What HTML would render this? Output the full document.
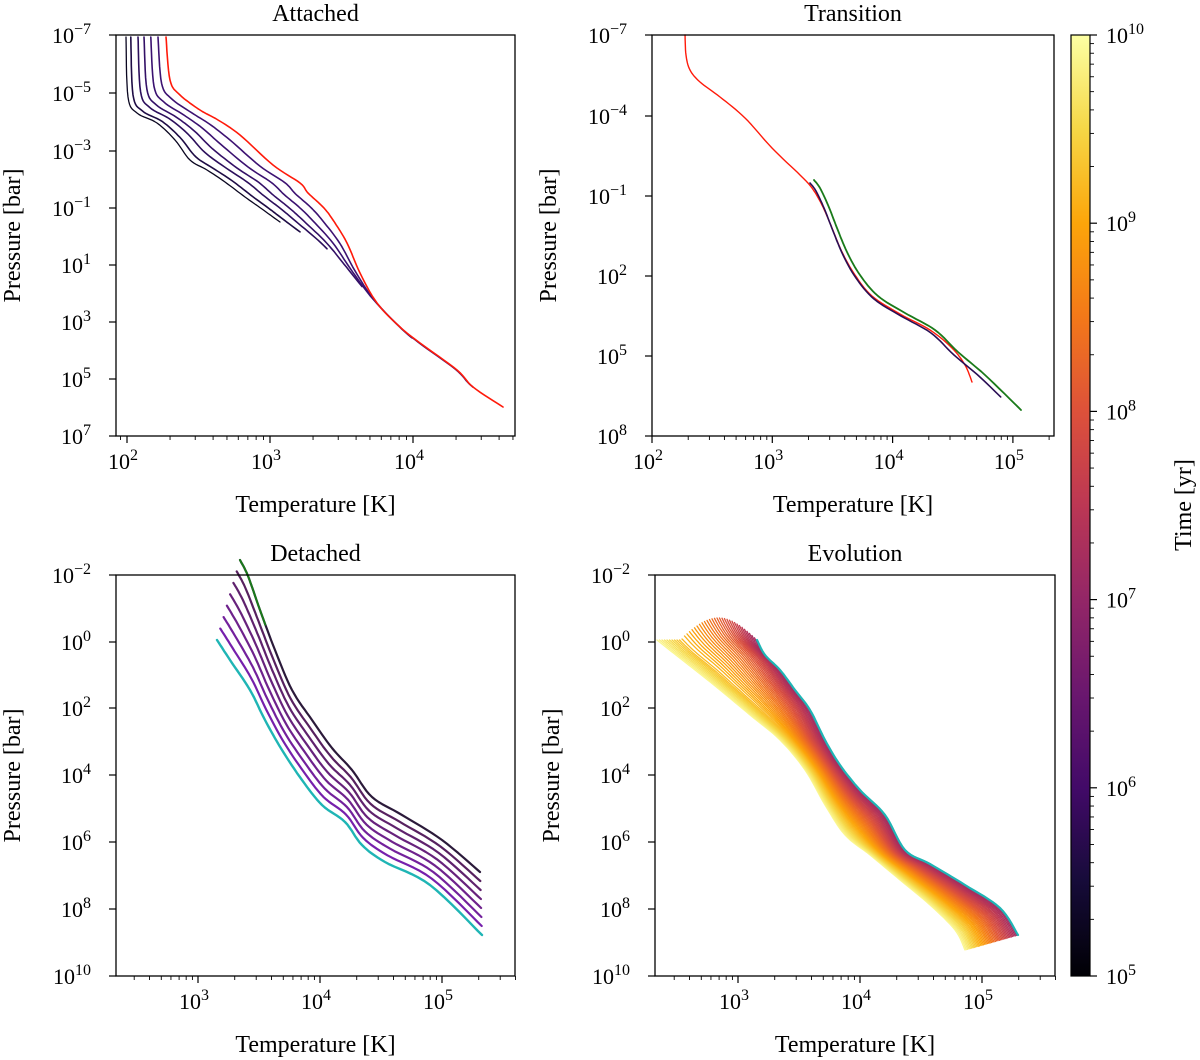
<!DOCTYPE html>
<html><head><meta charset="utf-8"><style>
body{margin:0;background:#fff}
svg{display:block;font-family:"Liberation Serif","DejaVu Serif",serif}
</style></head><body>
<svg id="s" width="1200" height="1060" xmlns="http://www.w3.org/2000/svg">
<defs><linearGradient id="inf" x1="0" y1="1" x2="0" y2="0">
<stop offset="0" stop-color="#000004"/><stop offset="0.1" stop-color="#160b39"/><stop offset="0.2" stop-color="#420a68"/><stop offset="0.3" stop-color="#6a176e"/><stop offset="0.4" stop-color="#932667"/><stop offset="0.5" stop-color="#bc3754"/><stop offset="0.6" stop-color="#dd513a"/><stop offset="0.7" stop-color="#f37819"/><stop offset="0.8" stop-color="#fca50a"/><stop offset="0.9" stop-color="#f6d746"/><stop offset="1" stop-color="#fcffa4"/></linearGradient></defs>
<g id="g"></g>
</svg>
<script>
const g=document.getElementById('g');let h='';
function pl(pts,col,w){h+=`<polyline fill="none" stroke="${col}" stroke-width="${w}" stroke-linejoin="round" stroke-linecap="round" points="${pts.map(p=>p[0].toFixed(1)+','+p[1].toFixed(1)).join(' ')}"/>`;}
function lerp(A,B,f){return A.map((a,i)=>[a[0]+(B[i][0]-a[0])*f,a[1]+(B[i][1]-a[1])*f]);}
function trunc(P,xe){let o=[];for(let i=0;i<P.length;i++){if(P[i][0]<=xe)o.push(P[i]);else{let a=P[i-1],b=P[i],t=(xe-a[0])/(b[0]-a[0]);o.push([xe,a[1]+t*(b[1]-a[1])]);break;}}return o;}
function smooth(P){
 let o=[];for(let i=0;i<P.length-1;i++){let p0=P[Math.max(0,i-1)],p1=P[i],p2=P[i+1],p3=P[Math.min(P.length-1,i+2)];
 for(let k=0;k<8;k++){let t=k/8,t2=t*t,t3=t2*t;o.push([0,1].map(j=>0.5*((2*p1[j])+(-p0[j]+p2[j])*t+(2*p0[j]-5*p1[j]+4*p2[j]-p3[j])*t2+(-p0[j]+3*p1[j]-3*p2[j]+p3[j])*t3)));}}
 o.push(P[P.length-1]);return o;}
function sup(x,y,b,e,anchor){h+=`<text x="${x}" y="${y}" font-size="22" text-anchor="${anchor}">${b}<tspan dy="-9" font-size="16">${e}</tspan></text>`;}
function axes(bx0,bx1,by0,by1,xf,xmaj,ymaj,title){
 for(let d=1;d<6;d++)for(let m=1;m<10;m++){let x=xf(d+Math.log10(m));if(x<bx0-0.5||x>bx1+0.5)continue;
  let L=m==1?7:4;h+=`<line x1="${x}" y1="${by1}" x2="${x}" y2="${by1+L}" stroke="#000" stroke-width="${m==1?1.2:0.9}"/>`;}
 xmaj.forEach(d=>{let x=xf(d);sup(x-4,by1+33,'10',d,'middle');});
 ymaj.forEach(([y,e])=>{h+=`<line x1="${bx0-7}" y1="${y}" x2="${bx0}" y2="${y}" stroke="#000" stroke-width="1.2"/>`;sup(bx0-25,y+8,'10',e,'end');});
 h+=`<rect x="${bx0}" y="${by0}" width="${bx1-bx0}" height="${by1-by0}" fill="none" stroke="#000" stroke-width="1.3"/>`;
 h+=`<text x="${(bx0+bx1)/2}" y="${by0-14}" font-size="24" text-anchor="middle">${title}</text>`;
 h+=`<text x="${(bx0+bx1)/2}" y="${by1+76}" font-size="24" text-anchor="middle">Temperature [K]</text>`;
 h+=`<text transform="translate(${bx0-96},${(by0+by1)/2}) rotate(-90)" font-size="24" text-anchor="middle">Pressure [bar]</text>`;
}
// Panel 1
{const B=[[126,37],[128,97],[137,113],[157,123],[175,140],[190,160],[207,170],[225,182],[245,197],[262,209],[280,222],[310,243],[335,262],[360,285],[390,318],[412,340],[450,367],[470,385],[500,405]];
 const R=[[166,37],[170,80],[180,95],[200,110],[218,120],[240,135],[273,165],[300,183],[308,193],[323,207],[333,220],[347,243],[360,273],[377,303],[400,327],[420,343],[457,370],[473,387],[503,407]];
 const fs=[0,0.12,0.3,0.45,0.62,0.8],ends=[280,300,327,362,412,473],cols=['#0a0620','#1e0c45','#2c0f5c','#331066','#3a1170','#3d1272'];
 fs.forEach((f,i)=>pl(trunc(smooth(lerp(B,R,f)),ends[i]),cols[i],i==0?1.3:1.6));
 pl(smooth(R),'#ff1a0a',1.6);
 axes(116,515,35,436,l=>127+143*(l-2),[2,3,4],[[35,'−7'],[93,'−5'],[151,'−3'],[208,'−1'],[265,'1'],[322,'3'],[379,'5'],[436,'7']],'Attached');}
// Panel 2
{const R=[[685,35],[686,55],[690,70],[700,82],[720,97],[745,118],[772,148],[800,175],[812,188],[822,205],[832,228],[842,252],[855,275],[872,296],[900,314],[930,330],[952,348],[965,365],[972,382]];
 const G=[[814,180],[820,188],[828,205],[837,228],[847,252],[860,275],[878,296],[905,313],[935,330],[958,352],[985,375],[1021,410]];
 pl(smooth(R),'#ff1a0a',1.4);
 pl(smooth(G.map(p=>[p[0]-4,p[1]+3])).slice(0,-4),'#2a0f55',1.6);
 pl(smooth(G),'#1a7a1a',1.8);
 axes(652,1054,35,436,l=>652+120.3*(l-2),[2,3,4,5],[[35,'−7'],[116,'−4'],[196,'−1'],[276,'2'],[356,'5'],[436,'8']],'Transition');}
// Panel 3
{const T=[[240,560],[248,576],[260,610],[275,650],[292,690],[312,720],[332,748],[352,770],[372,797],[402,815],[442,840],[480,872]];
 const C=[[217,640],[230,660],[250,690],[265,720],[282,750],[302,780],[322,805],[345,822],[362,845],[385,862],[430,885],[482,935]];
 const n=7;for(let i=n-1;i>=0;i--){let f=i/n;let P=lerp(T,C,f);
  let col=i==0?'#2b1a3a':`hsl(${295-3*i},${45+4*i}%,${22+3*i}%)`;
  pl(smooth(P),col,2.2);}
 pl(smooth(T).slice(0,20),'#1a7a1a',2);
 pl(smooth(C),'#1fb5b5',2.4);
 axes(116,515,575,976,l=>320+122*(l-4),[3,4,5],[[575,'−2'],[642,'0'],[708,'2'],[775,'4'],[842,'6'],[909,'8'],[976,'10']],'Detached');}
// Panel 4
{const C=[[757,640],[765,655],[780,670],[795,690],[810,710],[825,740],[840,765],[860,790],[885,815],[905,850],[930,864],[965,885],[1000,908],[1018,935]];
 const Y=[[657,640],[672,652],[695,670],[720,690],[750,715],[780,740],[805,770],[825,805],[845,835],[870,855],[900,880],[930,905],[955,930],[965,950]];
 const stops=[[0,[0,0,4]],[0.1,[22,11,57]],[0.2,[66,10,104]],[0.3,[106,23,110]],[0.4,[147,38,103]],[0.5,[188,55,84]],[0.6,[221,81,58]],[0.7,[243,120,25]],[0.8,[252,165,10]],[0.9,[246,215,70]],[1,[252,255,164]]];
 function cm(t){for(let i=0;i<stops.length-1;i++){if(t<=stops[i+1][0]){let a=stops[i],b=stops[i+1],u=(t-a[0])/(b[0]-a[0]);return 'rgb('+a[1].map((v,j)=>Math.round(v+(b[1][j]-v)*u)).join(',')+')';}}return 'rgb(252,255,164)';}
 const N=40;for(let k=N;k>=1;k--){let f=k/N;let P=smooth(lerp(C,Y,f));
  let lift=22*Math.sin(Math.PI*Math.min(1,f*1.3))*(f<0.75?1:0.6);
  P=P.map((p,i)=>[p[0],p[1]-lift*Math.max(0,1-i/40)]);
  pl(P,cm(0.42+0.56*f),1.3);}
 pl(smooth(C),'#1fb5b5',2.2);
 axes(655,1055,575,976,l=>860+122*(l-4),[3,4,5],[[575,'−2'],[642,'0'],[708,'2'],[775,'4'],[842,'6'],[909,'8'],[976,'10']],'Evolution');}
h+=`<rect x="1071" y="35" width="19" height="941" fill="url(#inf)" stroke="#000" stroke-width="1.2"/>`;
for(let e=5;e<=10;e++){let y=976-(e-5)*188.2;h+=`<line x1="1090" y1="${y}" x2="1097" y2="${y}" stroke="#000" stroke-width="1.2"/>`;sup(1106,y+8,'10',e,'start');
 if(e<10)for(let m=2;m<10;m++){let yy=y-188.2*Math.log10(m);h+=`<line x1="1090" y1="${yy}" x2="1094" y2="${yy}" stroke="#000" stroke-width="0.9"/>`;}}
h+=`<text transform="translate(1191,505) rotate(-90)" font-size="24" text-anchor="middle">Time [yr]</text>`;
g.innerHTML=h;
</script>
</body></html>
